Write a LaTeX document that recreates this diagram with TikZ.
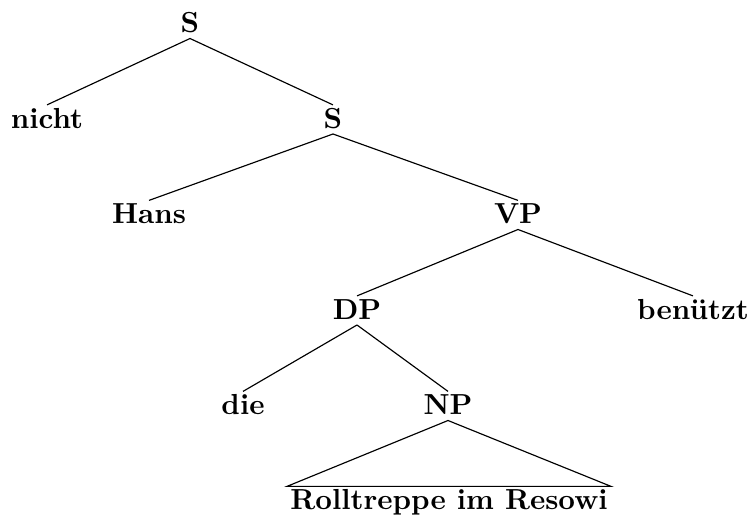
\documentclass[tikz,border=0pt]{standalone}
\usepackage{fontspec}
\begin{document}
\begin{tikzpicture}[x=0.345pt,y=-0.345pt,
  lbl/.style={font=\bfseries,inner sep=1pt,text height=6.94pt,text depth=0.7pt,anchor=base}]
  \useasboundingbox (0,0) rectangle (749,521);
  % categories and words
  \node[lbl] (s1) at (190,33) {S};
  \node[lbl] (nicht) at (47,128.5) {nicht};
  \node[lbl] (s2) at (333,128.5) {S};
  \node[lbl] (hans) at (149,224) {Hans};
  \node[lbl] (vp) at (518,224) {VP};
  \node[lbl] (dp) at (357,319.5) {DP};
  \node[lbl] (benuetzt) at (693,319.5) {benützt};
  \node[lbl] (die) at (243,415) {die};
  \node[lbl] (np) at (448,415) {NP};
  \node[lbl] (roll) at (449,510) {Rolltreppe im Resowi};
  % branches
  \foreach \a/\b in {s1/nicht,s1/s2,s2/hans,s2/vp,vp/dp,vp/benuetzt,dp/die,dp/np} {
    \draw (\a.south) -- (\b.north);
  }
  \draw (np.south) -- (roll.north west) -- (roll.north east) -- cycle;
\end{tikzpicture}
\end{document}
